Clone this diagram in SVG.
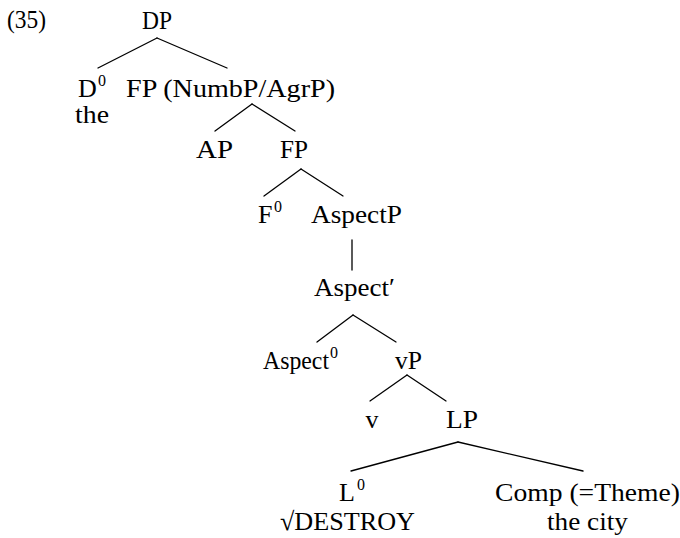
<svg xmlns="http://www.w3.org/2000/svg" width="680" height="538" viewBox="0 0 680 538">
  <style>
    text { font-family: "Liberation Serif", "DejaVu Serif", serif; font-size: 26px; fill: #000; }
    .sup { font-size: 16px; }
    .edges line { stroke: #000; stroke-width: 1.3; stroke-linecap: round; }
  </style>
  <rect width="680" height="538" fill="#fff"/>

  <text x="7" y="28" textLength="39" lengthAdjust="spacingAndGlyphs">(35)</text>

  <g class="edges">
    <line x1="157" y1="38" x2="98" y2="68"/>
    <line x1="157" y1="38" x2="227" y2="68"/>
    <line x1="252" y1="104" x2="215" y2="131"/>
    <line x1="252" y1="104" x2="295" y2="131"/>
    <line x1="301" y1="169" x2="264" y2="196"/>
    <line x1="301" y1="169" x2="343" y2="196"/>
    <line x1="352" y1="240" x2="352" y2="270"/>
    <line x1="353" y1="315" x2="317" y2="342"/>
    <line x1="353" y1="315" x2="396" y2="342"/>
    <line x1="407" y1="375" x2="370" y2="401"/>
    <line x1="407" y1="375" x2="446" y2="401"/>
    <line x1="458" y1="442" x2="351" y2="471"/>
    <line x1="458" y1="442" x2="583" y2="471"/>
  </g>

  <g id="n-DP"><text x="142" y="29" textLength="30" lengthAdjust="spacingAndGlyphs">DP</text></g>
  <g id="n-D0">
    <text x="78" y="97">D</text>
    <text class="sup" x="98" y="86">0</text>
    <text x="75" y="123" textLength="34" lengthAdjust="spacingAndGlyphs">the</text>
  </g>
  <g id="n-FP1"><text x="126" y="97" textLength="209" lengthAdjust="spacingAndGlyphs">FP (NumbP/AgrP)</text></g>
  <g id="n-AP"><text x="196" y="158" textLength="37" lengthAdjust="spacingAndGlyphs">AP</text></g>
  <g id="n-FP2"><text x="280" y="158" textLength="28" lengthAdjust="spacingAndGlyphs">FP</text></g>
  <g id="n-F0">
    <text x="258" y="223">F</text>
    <text class="sup" x="274" y="212">0</text>
  </g>
  <g id="n-AspectP"><text x="311" y="223" textLength="91" lengthAdjust="spacingAndGlyphs">AspectP</text></g>
  <g id="n-AspectBar"><text x="314" y="296" textLength="81" lengthAdjust="spacingAndGlyphs">Aspect′</text></g>
  <g id="n-Aspect0">
    <text x="263" y="369" textLength="66" lengthAdjust="spacingAndGlyphs">Aspect</text>
    <text class="sup" x="330" y="358">0</text>
  </g>
  <g id="n-vP"><text x="395" y="369" textLength="27" lengthAdjust="spacingAndGlyphs">vP</text></g>
  <g id="n-v"><text x="372" y="428" text-anchor="middle">v</text></g>
  <g id="n-LP"><text x="446" y="428" textLength="32" lengthAdjust="spacingAndGlyphs">LP</text></g>
  <g id="n-L0">
    <text x="339" y="501">L</text>
    <text class="sup" x="357" y="490">0</text>
    <text x="280" y="530" textLength="135" lengthAdjust="spacingAndGlyphs">√DESTROY</text>
  </g>
  <g id="n-Comp">
    <text x="495" y="501" textLength="185" lengthAdjust="spacingAndGlyphs">Comp (=Theme)</text>
    <text x="547" y="530" textLength="81" lengthAdjust="spacingAndGlyphs">the city</text>
  </g>
</svg>
